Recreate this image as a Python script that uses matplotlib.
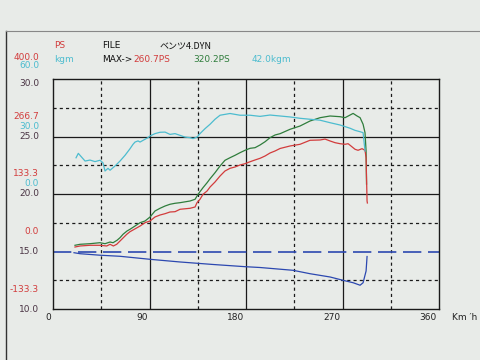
import matplotlib.pyplot as plt

# speed axis (km/h)
red_kmh = [20.5, 25.2, 34.5, 43.8, 50.1, 53.2, 56.3, 59.4, 62.5, 65.6, 68.8, 71.8, 81.2, 85.8,
           90.5, 95.1, 99.8, 104.5, 109.1, 113.8, 118.5, 127.8, 132.5, 134.3, 137.1, 139.9,
           143.7, 146.5, 151.1, 155.8, 160.4, 165.1, 169.8, 174.4, 179.1, 183.8, 188.4, 193.1,
           197.8, 202.4, 207.1, 211.8, 221.1, 230.4, 239.7, 249.1, 253.7, 258.4, 263.1, 267.7,
           272.4, 275.2, 277.1, 281.7, 284.5, 288.2, 291.0, 292.0, 292.9, 293.2]
red_ps = [10.4, 12.8, 14.4, 14.4, 12.8, 16.7, 12.8, 16.7, 24.3, 32.0, 39.9, 45.9, 59.1, 66.8,
          70.7, 80.0, 84.6, 87.7, 91.6, 92.3, 97.9, 100.2, 103.2, 113.2, 121.1, 132.6,
          140.3, 149.6, 161.2, 175.1, 186.7, 192.9, 196.0, 200.6, 203.6, 208.2, 212.2, 216.1,
          221.5, 228.4, 233.1, 238.9, 244.7, 248.6, 257.9, 258.6, 260.7, 256.3, 252.3, 250.0,
          248.6, 250.0, 246.3, 237.0, 234.7, 238.4, 234.7, 217.5, 117.1, 112.5]

green_kmh = [20.5, 25.2, 34.5, 43.8, 48.5, 53.2, 56.0, 59.7, 62.5, 65.3, 69.0, 71.8, 76.5,
             81.2, 85.8, 90.5, 95.1, 99.8, 104.5, 109.1, 113.8, 118.5, 127.8, 132.5, 135.3,
             137.1, 139.9, 143.7, 146.5, 151.1, 155.8, 160.4, 165.1, 169.8, 174.4, 179.1,
             183.8, 188.4, 193.1, 197.8, 202.4, 207.1, 211.8, 221.1, 230.4, 239.7, 249.1,
             258.4, 267.7, 272.4, 277.1, 279.9, 283.6, 286.4, 289.2, 291.0, 292.0, 292.4]
green_ps = [14.4, 16.7, 18.1, 20.4, 18.1, 22.0, 20.4, 26.0, 32.0, 39.9, 47.5, 51.5, 59.1,
            66.8, 70.7, 80.0, 93.9, 100.2, 105.5, 109.5, 111.8, 113.2, 117.1, 121.1, 132.6,
            138.7, 148.0, 159.5, 168.8, 182.7, 198.3, 211.5, 217.5, 223.1, 229.1, 234.7,
            239.3, 240.7, 247.0, 254.6, 263.9, 270.2, 273.2, 283.4, 291.0, 302.6, 310.3,
            314.2, 312.6, 310.3, 316.5, 320.2, 314.2, 310.3, 295.0, 275.5, 233.1, 156.5]

cyan_kmh = [21.5, 23.6, 29.9, 34.5, 39.2, 43.8, 46.6, 48.5, 51.3, 53.2, 57.8, 62.5, 67.2,
            71.8, 74.6, 76.5, 79.3, 81.2, 84.0, 88.6, 90.5, 95.1, 99.8, 104.5, 109.1, 113.8,
            118.5, 123.1, 127.8, 130.6, 134.3, 137.1, 141.8, 146.5, 151.1, 155.8, 165.1,
            174.4, 183.8, 193.1, 202.4, 211.8, 221.1, 230.4, 239.7, 249.1, 258.4, 267.7,
            277.1, 281.7, 286.4, 289.2, 291.0]
cyan_kgm = [18.9, 21.2, 17.2, 17.7, 16.9, 17.6, 16.3, 12.0, 13.4, 12.4, 14.6, 17.2, 20.2,
            23.6, 25.9, 27.1, 27.7, 27.1, 28.0, 29.4, 30.3, 31.5, 32.2, 32.3, 31.1, 31.5,
            30.6, 29.7, 29.4, 28.9, 29.7, 31.5, 34.1, 36.4, 39.0, 41.1, 42.0,
            41.1, 41.1, 40.5, 41.2, 40.7, 40.2, 39.5, 39.0, 38.5, 37.2, 36.0,
            34.3, 33.2, 32.5, 32.0, 22.4]

blue_kmh = [19.6, 25.2, 43.8, 62.5, 90.5, 118.5, 137.1, 149.3, 179.1, 193.1, 223.9, 239.7,
            258.4, 270.5, 279.9, 286.4, 289.2, 292.0, 292.9]
blue_ps = [-2.8, -5.1, -8.6, -11.1, -18.1, -24.3, -27.8, -30.1, -35.2, -37.1, -43.6, -51.5,
           -59.1, -66.8, -72.4, -78.2, -72.4, -45.2, -11.6]

x_ticks = [0, 90, 180, 270, 360]
y_black = [30.0, 25.0, 20.0, 15.0, 10.0]
lbl_black = ["30.0", "25.0", "20.0", "15.0", "10.0"]
lbl_red = ["400.0", "266.7", "133.3", "0.0", "-133.3"]
lbl_cyan = ["60.0", "30.0", "0.0", None, None]

RED = '#d23c3c'
GREEN = '#2f7d3c'
CYAN = '#4cbccf'
BLUE = '#2c48b0'
INK = '#4a3444'
BG = '#e8ebe8'

fig = plt.figure(figsize=(4.8, 3.6), dpi=100, facecolor=BG)
ax = fig.add_axes([53/480, 51/360, 386/480, 230/360])
ax.set_facecolor(BG)
ax.set_xlim(0, 360)
ax.set_ylim(10, 30)
ax.set_xticks([])
ax.set_yticks([])
for s in ax.spines.values():
    s.set_color('#1a1a1a')
    s.set_linewidth(1.0)

# grid
for v in [90, 180, 270]:
    ax.axvline(v, color='#1a1a1a', lw=0.9)
for v in [45, 135, 225, 315]:
    ax.axvline(v, color='#1a1a1a', lw=0.9, dashes=(2.5, 2.5))
for v in [20, 25]:
    ax.axhline(v, color='#1a1a1a', lw=0.9)
for v in [12.5, 17.5, 22.5, 27.5]:
    ax.axhline(v, color='#1a1a1a', lw=0.9, dashes=(2.5, 2.5))
ax.axhline(15, color=BLUE, lw=1.2, dashes=(11, 4))

ax_ps = ax.twinx()
ax_ps.set_ylim(-133.33, 400)
ax_ps.axis('off')
ax_kg = ax.twinx()
ax_kg.set_ylim(-60, 60)
ax_kg.axis('off')

ax_kg.plot(cyan_kmh, cyan_kgm, color=CYAN, lw=0.9)
ax_ps.plot(blue_kmh, blue_ps, color=BLUE, lw=0.9)
ax_ps.plot(green_kmh, green_ps, color=GREEN, lw=0.9)
ax_ps.plot(red_kmh, red_ps, color=RED, lw=0.9)

fs = 6.5
# left scale labels
for i, v in enumerate(y_black):
    top = (i == 0)
    offs = (-5, 22, 14) if top else (0, 20, 10)
    ax.annotate(lbl_black[i], (0, v), xycoords=('axes fraction', 'data'),
                xytext=(-14, offs[0]), textcoords='offset pixels',
                ha='right', va='center', color=INK, fontsize=fs)
    ax.annotate(lbl_red[i], (0, v), xycoords=('axes fraction', 'data'),
                xytext=(-14, offs[1]), textcoords='offset pixels',
                ha='right', va='center', color=RED, fontsize=fs)
    if lbl_cyan[i] is not None:
        ax.annotate(lbl_cyan[i], (0, v), xycoords=('axes fraction', 'data'),
                    xytext=(-14, offs[2]), textcoords='offset pixels',
                    ha='right', va='center', color=CYAN, fontsize=fs)

for v in x_ticks:
    ax.annotate(str(v), (v, 0), xycoords=('data', 'axes fraction'),
                xytext=(-2, -9), textcoords='offset pixels',
                ha='right', va='center', color='#222222', fontsize=fs)
fig.text(452/480, 1 - 317/360, "Km \u2032h", color='#222222', fontsize=fs, va='center')

# header
def hdr(x, y, s, c, **kw):
    fig.text(x/480, 1 - y/360, s, color=c, fontsize=fs, va='center', **kw)

hdr(54, 46, "PS", RED)
hdr(54, 59, "kgm", CYAN)
hdr(102, 46, "FILE", '#111111')
hdr(160, 46, "ベンツ4.DYN", '#111111', family=['Noto Sans CJK JP', 'DejaVu Sans'])
hdr(102, 59, "MAX->", '#111111')
hdr(133, 59, "260.7PS", RED)
hdr(193, 59, "320.2PS", GREEN)
hdr(252, 59, "42.0kgm", CYAN)

# outer frame of the printout
fig.add_artist(plt.Line2D([6/480, 6/480], [0, 1 - 31/360], color='#333333', lw=1.0))
fig.add_artist(plt.Line2D([6/480, 1], [1 - 31/360, 1 - 31/360], color='#888888', lw=0.8))

fig.savefig("out.png", dpi=100, facecolor=BG)
